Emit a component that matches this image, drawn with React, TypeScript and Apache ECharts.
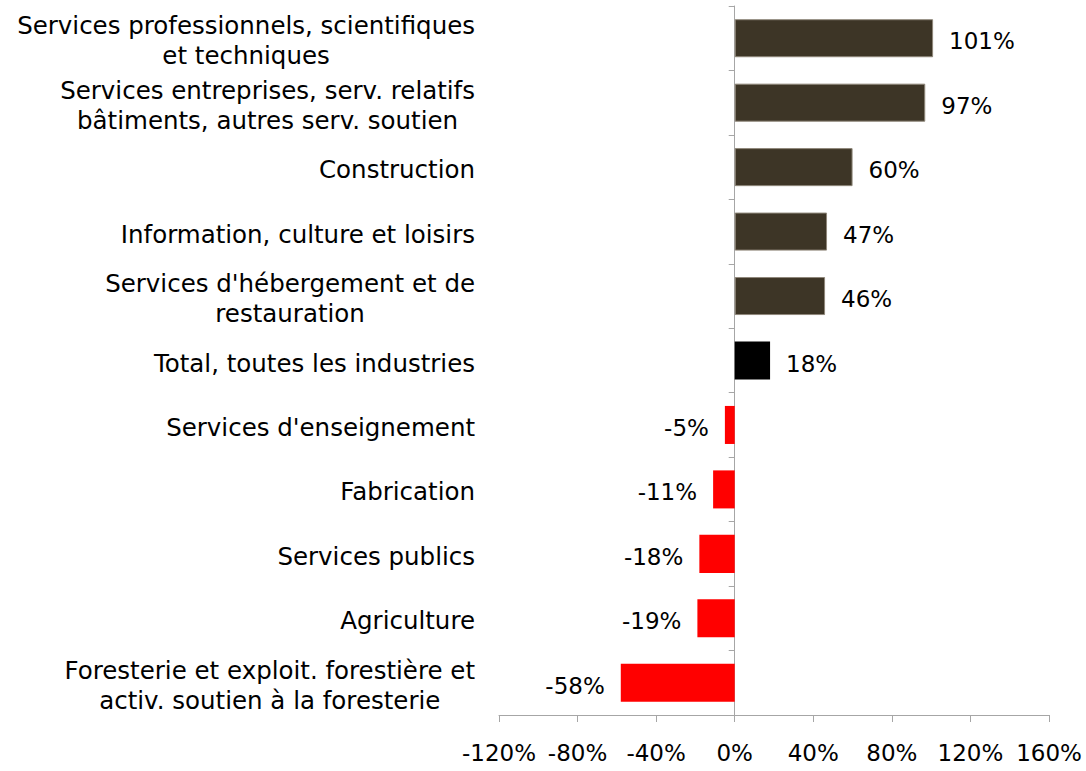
import React, { useEffect, useRef } from "react";
import * as echarts from "echarts";

const categories: string[] = [
  "Services professionnels, scientifiques\net techniques",
  "Services entreprises, serv. relatifs\nbâtiments, autres serv. soutien",
  "Construction",
  "Information, culture et loisirs",
  "Services d'hébergement et de\nrestauration",
  "Total, toutes les industries",
  "Services d'enseignement",
  "Fabrication",
  "Services publics",
  "Agriculture",
  "Foresterie et exploit. forestière et\nactiv. soutien à la foresterie",
];

const values: number[] = [101, 97, 60, 47, 46, 18, -5, -11, -18, -19, -58];

const barColors: string[] = [
  "#3d3526", "#3d3526", "#3d3526", "#3d3526", "#3d3526",
  "#000000",
  "#ff0000", "#ff0000", "#ff0000", "#ff0000", "#ff0000",
];

const xMin = -120;
const xMax = 160;
const xStep = 40;

const FONT = "'DejaVu Sans', sans-serif";

export default function App() {
  const ref = useRef<HTMLDivElement>(null);

  useEffect(() => {
    if (!ref.current) return;
    const chart = echarts.init(ref.current, undefined, { renderer: "svg" });

    const data = values.map((v, i) => ({
      value: v,
      itemStyle: {
        color: barColors[i],
        borderColor: barColors[i] === "#3d3526" ? "#8f877a" : barColors[i],
        borderWidth: barColors[i] === "#3d3526" ? 1 : 0,
      },
      label: { position: v < 0 ? "left" : "right" },
    }));

    chart.setOption({
      animation: false,
      backgroundColor: "#ffffff",
      grid: { left: 499, right: 37, top: 6, bottom: 56 },
      xAxis: {
        type: "value",
        min: xMin,
        max: xMax,
        interval: xStep,
        axisLine: { show: true, onZero: false, lineStyle: { color: "#a6a6a6", width: 1 } },
        axisTick: { show: true, length: 7, lineStyle: { color: "#a6a6a6" } },
        splitLine: { show: false },
        axisLabel: {
          formatter: "{value}%",
          color: "#000",
          fontFamily: FONT,
          fontSize: 23,
          margin: 26,
        },
      },
      yAxis: [
        {
          type: "category",
          data: categories,
          inverse: true,
          position: "left",
          axisLine: { show: false, onZero: false },
          axisTick: { show: false },
          axisLabel: {
            margin: 24,
            padding: [5, 0, 0, 0],
            formatter: (val: string) =>
              val.split("\n").map((l) => `{c|${l}}`).join("\n"),
            rich: {
              c: {
                align: "center",
                color: "#000",
                fontFamily: FONT,
                fontSize: 24.5,
                lineHeight: 30,
              },
            },
          },
        },
        {
          type: "category",
          data: categories,
          inverse: true,
          position: "left",
          axisLine: { show: true, onZero: true, lineStyle: { color: "#a6a6a6", width: 1 } },
          axisTick: { show: true, length: 6, lineStyle: { color: "#a6a6a6" } },
          axisLabel: { show: false },
        },
      ],
      series: [
        {
          type: "bar",
          yAxisIndex: 0,
          data,
          barCategoryGap: "41%",
          label: {
            show: true,
            distance: 16,
            offset: [0, 3],
            formatter: "{c}%",
            color: "#000",
            fontFamily: FONT,
            fontSize: 23,
          },
        },
      ],
    });

    return () => chart.dispose();
  }, []);

  return (
    <div
      ref={ref}
      style={{ position: "absolute", left: 0, top: 0, width: 1086, height: 771 }}
    />
  );
}
